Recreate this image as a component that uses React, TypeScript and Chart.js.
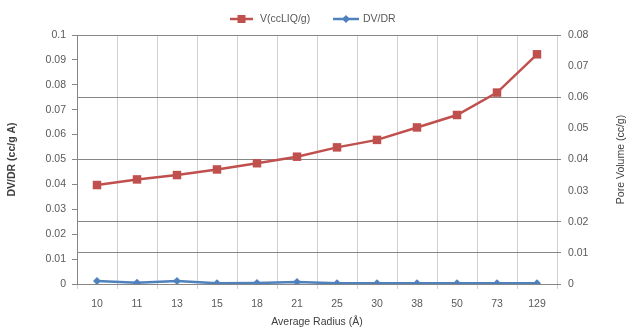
import React, { useEffect, useRef } from "react";
import { Chart, registerables } from "chart.js";

Chart.register(...registerables);

const categories = ["10", "11", "13", "15", "18", "21", "25", "30", "38", "50", "73", "129"];
const poreVolume = [0.0318, 0.0336, 0.035, 0.0368, 0.0388, 0.0409, 0.0439, 0.0463, 0.0503, 0.0543, 0.0615, 0.0738];
const dvdr = [0.0012, 0.0005, 0.0012, 0.0003, 0.0004, 0.0008, 0.0003, 0.0003, 0.0003, 0.0003, 0.0003, 0.0003];
const rightGridValues = [0.08, 0.06, 0.04, 0.02, 0.01, 0];

const seriesNames = ["V(ccLIQ/g)", "DV/DR"];
const RED = "#C0504D";
const BLUE = "#4F81BD";
const FONT = "'Liberation Sans', Arial, sans-serif";
const TEXT = "#595959";

const fmt = (v: any) => String(Number(Number(v).toFixed(4)));

const isGridValue = (v: number) => rightGridValues.some((g) => Math.abs(g - v) < 1e-9);

const extrasPlugin = {
  id: "extras",
  afterDraw(chart: any) {
    const ctx = chart.ctx as CanvasRenderingContext2D;
    const ca = chart.chartArea;
    ctx.save();
    // Legend
    const ly = 19;
    ctx.lineWidth = 2.5;
    ctx.strokeStyle = RED;
    ctx.beginPath();
    ctx.moveTo(230, ly);
    ctx.lineTo(253, ly);
    ctx.stroke();
    ctx.fillStyle = RED;
    ctx.fillRect(237.5, ly - 4, 8, 8);
    ctx.strokeStyle = BLUE;
    ctx.beginPath();
    ctx.moveTo(333, ly);
    ctx.lineTo(359, ly);
    ctx.stroke();
    ctx.fillStyle = BLUE;
    ctx.beginPath();
    ctx.moveTo(346, ly - 4);
    ctx.lineTo(350, ly);
    ctx.lineTo(346, ly + 4);
    ctx.lineTo(342, ly);
    ctx.closePath();
    ctx.fill();
    ctx.font = `10.5px ${FONT}`;
    ctx.fillStyle = TEXT;
    ctx.textBaseline = "middle";
    ctx.textAlign = "left";
    ctx.fillText(seriesNames[0], 260, ly);
    ctx.fillText(seriesNames[1], 363, ly);
    // Right axis title (reads bottom to top)
    ctx.translate(621, (ca.top + ca.bottom) / 2);
    ctx.rotate(-Math.PI / 2);
    ctx.textAlign = "center";
    ctx.fillStyle = "#404040";
    ctx.font = `10.5px ${FONT}`;
    ctx.fillText("Pore Volume (cc/g)", 0, 0);
    ctx.restore();
  },
};

export default function App() {
  const ref = useRef<HTMLCanvasElement>(null);
  useEffect(() => {
    if (!ref.current) return;
    const chart = new Chart(ref.current, {
      type: "line",
      data: {
        labels: categories,
        datasets: [
          {
            label: seriesNames[0],
            data: poreVolume,
            yAxisID: "y1",
            borderColor: RED,
            backgroundColor: RED,
            borderWidth: 2.5,
            pointStyle: "rect",
            pointRadius: 6,
            pointBorderWidth: 0,
            pointBackgroundColor: RED,
            tension: 0,
          },
          {
            label: seriesNames[1],
            data: dvdr,
            yAxisID: "y",
            borderColor: BLUE,
            backgroundColor: BLUE,
            borderWidth: 2.5,
            pointStyle: "rectRot",
            pointRadius: 4,
            pointBorderWidth: 0,
            pointBackgroundColor: BLUE,
            tension: 0,
          },
        ],
      },
      options: {
        animation: false,
        responsive: false,
        layout: { padding: { top: 35, left: 0, right: 0, bottom: 0 } },
        plugins: { legend: { display: false }, tooltip: { enabled: false } },
        scales: {
          x: {
            type: "category",
            offset: true,
            grid: {
              offset: true,
              color: "#d0d0d0",
              lineWidth: 1,
              tickLength: 5,
              drawOnChartArea: true,
            },
            border: { display: true, color: "#868686", width: 1 },
            ticks: { color: TEXT, font: { family: FONT, size: 10.5 }, padding: 9, maxRotation: 0, autoSkip: false },
            title: {
              display: true,
              text: "Average Radius (Å)",
              color: "#404040",
              font: { family: FONT, size: 10.5 },
              padding: { top: 4, bottom: 3 },
            },
            afterFit: (s: any) => {
              s.height = 47;
            },
          },
          y: {
            position: "left",
            min: 0,
            max: 0.1,
            ticks: { stepSize: 0.01, color: TEXT, font: { family: FONT, size: 10.5 }, padding: 6, callback: fmt },
            grid: { drawOnChartArea: false, color: "#868686", tickLength: 5 },
            border: { display: true, color: "#868686" },
            title: {
              display: true,
              text: "DV/DR (cc/g A)",
              color: "#404040",
              font: { family: FONT, size: 10.5, weight: "bold" },
              padding: { top: 6, bottom: 0 },
            },
            afterFit: (s: any) => {
              s.width = 77;
            },
          },
          y1: {
            position: "right",
            min: 0,
            max: 0.08,
            ticks: { stepSize: 0.01, color: TEXT, font: { family: FONT, size: 10.5 }, padding: 7, callback: fmt },
            grid: {
              drawOnChartArea: true,
              tickLength: 4,
              color: (c: any) => {
                const v = c.tick ? c.tick.value : null;
                if (v === null || v === undefined) return "rgba(0,0,0,0)";
                return isGridValue(v) && v !== 0 ? "#868686" : "rgba(0,0,0,0)";
              },
              tickColor: (c: any) => {
                const v = c.tick ? c.tick.value : null;
                if (v === null || v === undefined) return "rgba(0,0,0,0)";
                return isGridValue(v) ? "#868686" : "rgba(0,0,0,0)";
              },
            },
            border: { display: false },
            afterFit: (s: any) => {
              s.width = 72;
            },
          },
        },
      },
      plugins: [extrasPlugin],
    });
    return () => chart.destroy();
  }, []);
  return (
    <div style={{ position: "fixed", left: 0, top: 0, width: 629, height: 331, background: "#fff" }}>
      <canvas ref={ref} width={629} height={331} style={{ width: 629, height: 331 }} />
    </div>
  );
}
